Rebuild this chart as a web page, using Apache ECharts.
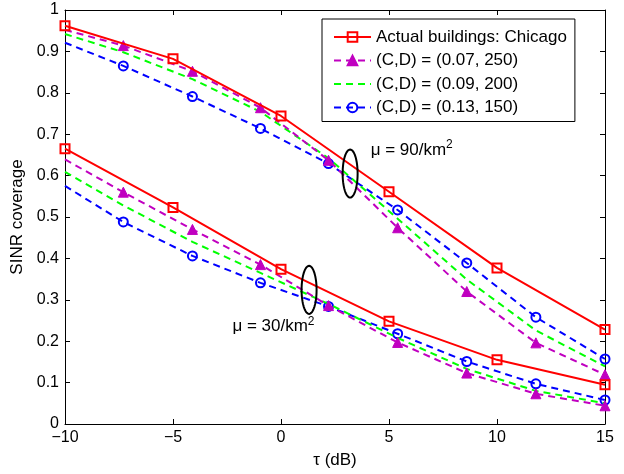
<!DOCTYPE html>
<html>
<head>
<meta charset="utf-8">
<script src="https://cdn.jsdelivr.net/npm/echarts@6/dist/echarts.min.js"></script>
<style>
  html, body { margin: 0; padding: 0; background: #fff; }
  #chart { width: 624px; height: 474px; }
</style>
</head>
<body>
<div id="chart"></div>
<script>
// SINR threshold (dB) at which coverage was evaluated
const tauActual = [-10, -5, 0, 5, 10, 15];
const tauModel = [-10, -7.3, -4.1, -0.95, 2.2, 5.4, 8.6, 11.8, 15];

// Actual buildings (Chicago), two BS densities
const actual90 = [0.962, 0.882, 0.744, 0.561, 0.377, 0.228];
const actual30 = [0.665, 0.523, 0.374, 0.248, 0.155, 0.095];

// Random building model, (C,D) pairs, mu = 90/km^2
const cd007_90 = [0.952, 0.914, 0.852, 0.764, 0.637, 0.474, 0.320, 0.196, 0.119];
const cd009_90 = [0.942, 0.898, 0.833, 0.754, 0.642, 0.496, 0.349, 0.226, 0.139];
const cd013_90 = [0.921, 0.865, 0.791, 0.714, 0.629, 0.517, 0.389, 0.258, 0.157];

// Random building model, (C,D) pairs, mu = 30/km^2
const cd007_30 = [0.639, 0.560, 0.470, 0.385, 0.286, 0.197, 0.123, 0.073, 0.044];
const cd009_30 = [0.609, 0.528, 0.440, 0.365, 0.290, 0.208, 0.133, 0.080, 0.050];
const cd013_30 = [0.575, 0.488, 0.406, 0.341, 0.284, 0.218, 0.151, 0.097, 0.058];

const seriesNames = [
  'Actual buildings: Chicago',
  '(C,D) = (0.07, 250)',
  '(C,D) = (0.09, 200)',
  '(C,D) = (0.13, 150)'
];

// Ellipses grouping each density's curves, and their labels
const ellipseCenters = [[3.2, 0.605], [1.3, 0.324]];
const densityLabels = [
  { x: 4.15, y: 0.662, text: '90' },
  { x: -2.25, y: 0.236, text: '30' }
];

const FONT = '"Liberation Sans", Arial, Helvetica, sans-serif';
const RED = '#ff0000', MAG = '#c000c0', GRN = '#00ff00', BLU = '#0000ff';
const DASH = [7, 5];

function pairs(xs, ys, skipFirstSymbol) {
  return xs.map((x, i) => {
    const item = { value: [x, ys[i]] };
    if (skipFirstSymbol && i === 0) item.symbol = 'none';
    return item;
  });
}

function actualSeries(ys) {
  return {
    name: seriesNames[0], type: 'line', data: pairs(tauActual, ys, false),
    symbol: 'rect', symbolSize: 9, showAllSymbol: true,
    lineStyle: { color: RED, width: 2 },
    itemStyle: { color: 'rgba(255,255,255,0)', borderColor: RED, borderWidth: 2 },
    z: 5
  };
}

function modelSeries(idx, ys, color, symbol, size, filled) {
  return {
    name: seriesNames[idx], type: 'line', data: pairs(tauModel, ys, true),
    symbol: symbol, symbolSize: size, showAllSymbol: true,
    lineStyle: { color: color, width: 2, type: DASH },
    itemStyle: filled
      ? { color: color, borderColor: color, borderWidth: 1 }
      : { color: 'rgba(255,255,255,0)', borderColor: color, borderWidth: 2 },
    z: 4 - idx * 0.1
  };
}

const chart = echarts.init(document.getElementById('chart'), null, { renderer: 'canvas' });

const axisCommon = {
  axisLine: { show: true, onZero: false, lineStyle: { color: '#000', width: 1 } },
  axisTick: { show: true, inside: true, length: 5, lineStyle: { color: '#000' } },
  splitLine: { show: false }
};

chart.setOption({
  animation: false,
  backgroundColor: '#fff',
  textStyle: { fontFamily: FONT },
  grid: { left: 65, right: 19, top: 10, bottom: 44, containLabel: false },
  xAxis: [
    Object.assign({
      type: 'value', min: -10, max: 15, interval: 5, position: 'bottom',
      name: 'τ (dB)', nameLocation: 'middle', nameGap: 28,
      nameTextStyle: { fontSize: 17, color: '#000', fontFamily: FONT },
      axisLabel: {
        fontSize: 16, color: '#000', margin: 6, fontFamily: FONT,
        formatter: v => String(v).replace('-', '\u2212')
      }
    }, axisCommon),
    Object.assign({
      type: 'value', min: -10, max: 15, interval: 5, position: 'top',
      axisLabel: { show: false }
    }, axisCommon)
  ],
  yAxis: [
    Object.assign({
      type: 'value', min: 0, max: 1, interval: 0.1, position: 'left',
      name: 'SINR coverage', nameLocation: 'middle', nameGap: 34,
      nameTextStyle: { fontSize: 17, color: '#000', fontFamily: FONT },
      axisLabel: { fontSize: 16, color: '#000', margin: 6, fontFamily: FONT }
    }, axisCommon),
    Object.assign({
      type: 'value', min: 0, max: 1, interval: 0.1, position: 'right',
      axisLabel: { show: false }
    }, axisCommon)
  ],
  legend: {
    data: [
      { name: seriesNames[0] },
      { name: seriesNames[1] },
      { name: seriesNames[2], itemStyle: { opacity: 0 } },
      { name: seriesNames[3] }
    ],
    orient: 'vertical', left: 322, top: 19,
    backgroundColor: '#fff', borderColor: '#000', borderWidth: 1, borderRadius: 0,
    padding: [9, 8, 5, 11],
    itemWidth: 37, itemHeight: 12, itemGap: 5.5,
    textStyle: { fontSize: 17, lineHeight: 18, color: '#000', fontFamily: FONT }
  },
  series: [
    actualSeries(actual90),
    modelSeries(1, cd007_90, MAG, 'triangle', 10, true),
    modelSeries(2, cd009_90, GRN, 'none', 0, true),
    modelSeries(3, cd013_90, BLU, 'circle', 9, false),
    actualSeries(actual30),
    modelSeries(1, cd007_30, MAG, 'triangle', 10, true),
    modelSeries(2, cd009_30, GRN, 'none', 0, true),
    modelSeries(3, cd013_30, BLU, 'circle', 9, false),
    {
      type: 'custom', z: 10, silent: true,
      data: ellipseCenters,
      renderItem: function (params, api) {
        const c = api.coord([api.value(0), api.value(1)]);
        const rx = 7.5, ry = 24, pts = [];
        for (let i = 0; i < 64; i++) {
          const a = (i / 64) * Math.PI * 2;
          pts.push([c[0] + rx * Math.cos(a), c[1] + ry * Math.sin(a)]);
        }
        return {
          type: 'polygon', shape: { points: pts },
          style: { fill: 'none', stroke: '#000', lineWidth: 2 }
        };
      }
    },
    {
      type: 'custom', z: 10, silent: true,
      data: densityLabels.map(d => [d.x, d.y]),
      renderItem: function (params, api) {
        const c = api.coord([api.value(0), api.value(1)]);
        const lbl = densityLabels[params.dataIndex];
        return {
          type: 'text', x: c[0], y: c[1],
          style: {
            text: '{a|μ = ' + lbl.text + '/km}{s|2}',
            verticalAlign: 'middle', align: 'left',
            rich: {
              a: { fontSize: 17, fontFamily: FONT, fill: '#000', lineHeight: 20 },
              s: { fontSize: 12, fontFamily: FONT, fill: '#000', padding: [0, 0, 10, 0] }
            }
          }
        };
      }
    }
  ]
});
</script>
</body>
</html>
